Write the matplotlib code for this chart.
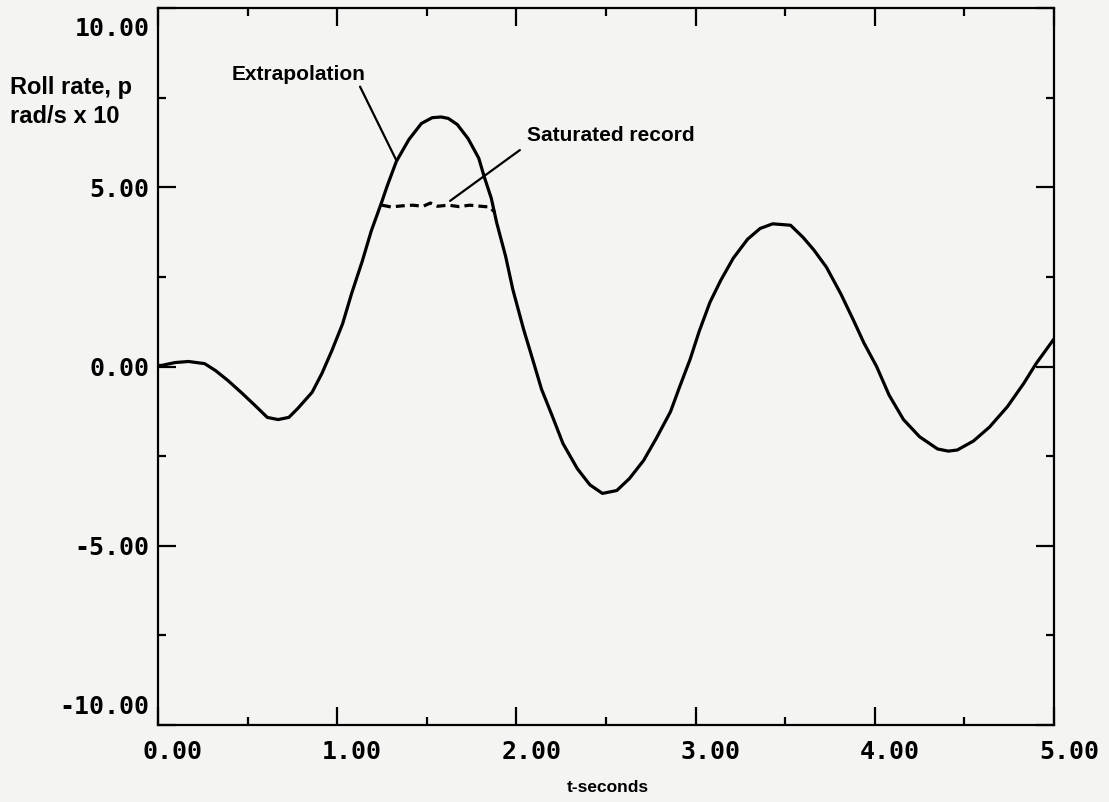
import matplotlib.pyplot as plt
import matplotlib.transforms as mtransforms
from matplotlib.ticker import MultipleLocator

# roll rate (t in s, p in rad/s x 10)
t = [0.00, 0.02, 0.095, 0.17, 0.26, 0.32, 0.39, 0.47, 0.54, 0.61, 0.67, 0.73, 0.78,
     0.86, 0.915, 0.97, 1.03, 1.08, 1.14, 1.19, 1.25, 1.28, 1.33, 1.40, 1.47, 1.53,
     1.58, 1.62, 1.67, 1.73, 1.79, 1.82, 1.86, 1.89, 1.94, 1.98, 2.04, 2.09, 2.14,
     2.20, 2.26, 2.34, 2.41, 2.48, 2.56, 2.63, 2.71, 2.78, 2.86, 2.91, 2.97, 3.02,
     3.08, 3.14, 3.21, 3.29, 3.36, 3.43, 3.53, 3.60, 3.66, 3.73, 3.81, 3.88, 3.94,
     4.01, 4.08, 4.16, 4.25, 4.35, 4.41, 4.46, 4.55, 4.64, 4.74, 4.83, 4.90, 5.00]
p = [0.03, 0.03, 0.11, 0.14, 0.08, -0.11, -0.39, -0.75, -1.08, -1.42, -1.48, -1.42, -1.17,
     -0.72, -0.19, 0.44, 1.19, 2.03, 2.94, 3.78, 4.61, 5.05, 5.72, 6.33, 6.78, 6.94,
     6.96, 6.92, 6.75, 6.36, 5.81, 5.30, 4.69, 4.01, 3.07, 2.15, 1.04, 0.21, -0.63,
     -1.38, -2.15, -2.85, -3.30, -3.54, -3.46, -3.13, -2.62, -2.01, -1.26, -0.58, 0.21, 0.98,
     1.79, 2.40, 3.02, 3.55, 3.85, 3.98, 3.94, 3.60, 3.25, 2.77, 2.03, 1.30, 0.65,
     0.00, -0.80, -1.48, -1.96, -2.30, -2.36, -2.33, -2.08, -1.69, -1.12, -0.48, 0.08, 0.77]

# saturated part of the record
t_sat = [1.25, 1.30, 1.36, 1.42, 1.48, 1.52, 1.56, 1.62, 1.68, 1.74, 1.80, 1.85, 1.88]
p_sat = [4.50, 4.45, 4.48, 4.50, 4.47, 4.56, 4.47, 4.50, 4.46, 4.50, 4.47, 4.45, 4.30]

xticks = [0, 1, 2, 3, 4, 5]
xlabels = ['0.00', '1.00', '2.00', '3.00', '4.00', '5.00']
yticks = [-10, -5, 0, 5, 10]
ylabels = ['-10.00', '-5.00', '0.00', '5.00', '10.00']

bg = '#f4f4f2'
fig = plt.figure(figsize=(11.09, 8.02), dpi=100, facecolor=bg)
ax = fig.add_axes([158 / 1109, 1 - 725 / 802, (1054 - 158) / 1109, (725 - 8) / 802])
ax.set_facecolor(bg)

ax.plot(t, p, color='black', lw=2.3, solid_joinstyle='round', solid_capstyle='round')
ax.plot(t_sat, p_sat, color='black', lw=2.3, linestyle=(0, (2.8, 1.6)))

ax.set_xlim(0, 5)
ax.set_ylim(-10, 10)
ax.set_xticks(xticks, xlabels)
ax.set_yticks(yticks, ylabels)
ax.xaxis.set_minor_locator(MultipleLocator(0.5))
ax.yaxis.set_minor_locator(MultipleLocator(2.5))
ax.tick_params(which='both', direction='in', top=True, right=True, width=1.6, color='black')
ax.tick_params(which='major', length=13)
ax.tick_params(which='minor', length=6)
ax.tick_params(axis='x', pad=11)
ax.tick_params(axis='y', pad=6)
for s in ax.spines.values():
    s.set_linewidth(1.6)

for lab in ax.get_xticklabels() + ax.get_yticklabels():
    lab.set_family('DejaVu Sans Mono')
    lab.set_fontweight('bold')
    lab.set_fontsize(18)

# plotter shifted labels to the right of the x ticks, and pulled the end y labels inward
shift = mtransforms.ScaledTranslation(15 / 100, 0, fig.dpi_scale_trans)
for lab in ax.get_xticklabels():
    lab.set_transform(lab.get_transform() + shift)
ylabs = ax.get_yticklabels()
ylabs[0].set_transform(ylabs[0].get_transform() + mtransforms.ScaledTranslation(0, 21 / 100, fig.dpi_scale_trans))
ylabs[-1].set_transform(ylabs[-1].get_transform() + mtransforms.ScaledTranslation(0, -19 / 100, fig.dpi_scale_trans))

bold = dict(family='Liberation Sans', weight='bold')
fig.text(10 / 1109, 1 - 102 / 802, 'Roll rate, p\nrad/s x 10', ha='left', va='center',
         linespacing=1.35, fontsize=17, **bold)
fig.text(608 / 1109, 1 - 787 / 802, 't-seconds', ha='center', va='center', fontsize=12.5, **bold)

ax.annotate('Extrapolation', xy=(1.33, 5.75), xytext=(0.41, 8.15), textcoords='data',
            ha='left', va='center', fontsize=15, **bold,
            arrowprops=dict(arrowstyle='-', color='black', lw=1.6,
                            shrinkA=0, shrinkB=0, relpos=(0.95, 0.0)))
ax.annotate('Saturated record', xy=(1.63, 4.62), xytext=(2.06, 6.45), textcoords='data',
            ha='left', va='center', fontsize=15, **bold,
            arrowprops=dict(arrowstyle='-', color='black', lw=1.6,
                            shrinkA=4, shrinkB=0, relpos=(0.0, 0.0)))

fig.savefig('out.png', dpi=100, facecolor=bg)
